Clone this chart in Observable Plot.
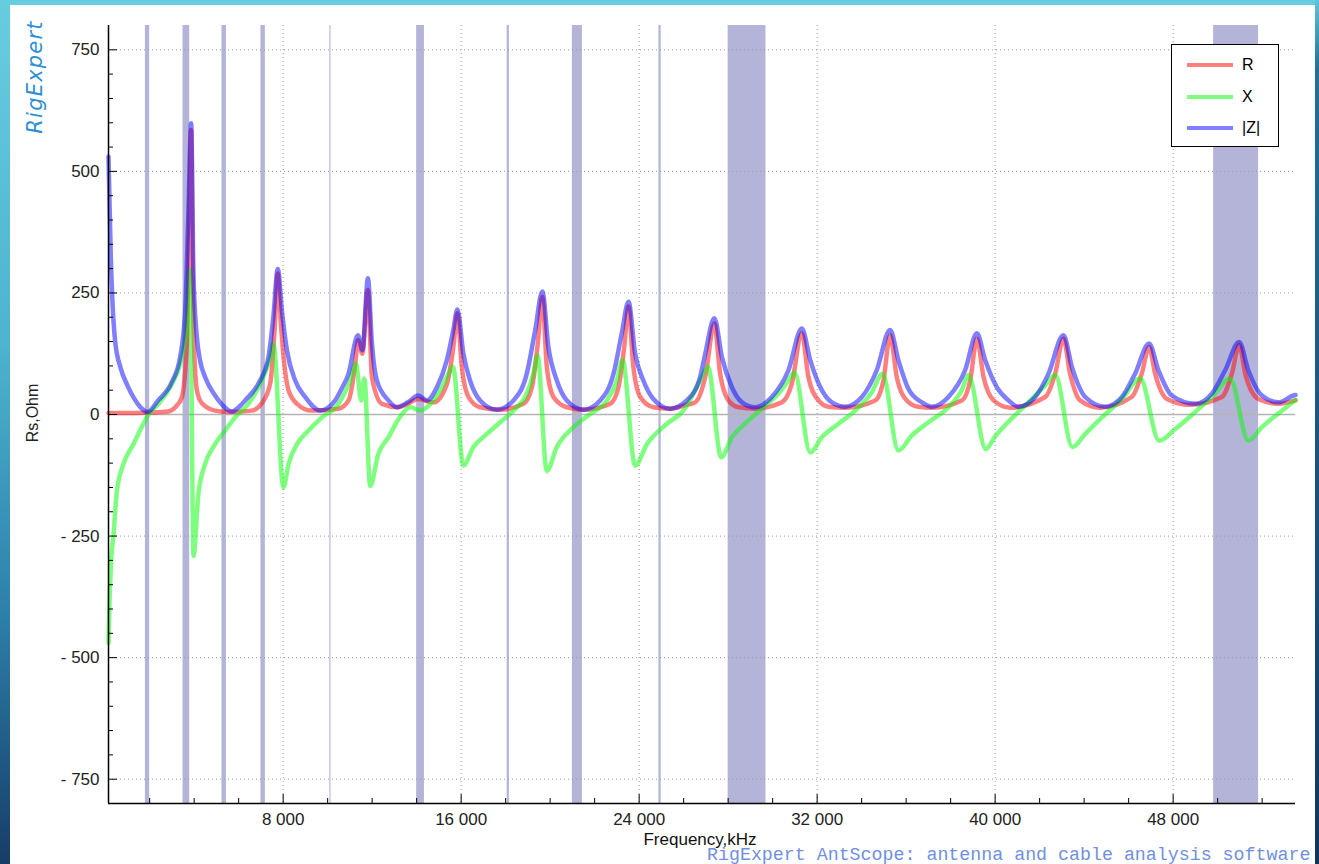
<!DOCTYPE html>
<html><head><meta charset="utf-8">
<script src="https://cdn.jsdelivr.net/npm/d3@7"></script>
<script src="https://cdn.jsdelivr.net/npm/@observablehq/plot@0.6"></script>
<style>
html,body{margin:0;padding:0;width:1319px;height:864px;overflow:hidden;}
body{position:relative;background:linear-gradient(180deg,#66cde1 0%,#4db3cf 40%,#2c7ea8 72%,#163d68 100%);font-family:"Liberation Sans",Arial,sans-serif;}
#rstrip{position:absolute;left:1315px;top:0;width:4px;height:864px;background:linear-gradient(180deg,#5fc4dc 0%,#1f6f9e 8%,#174f80 60%,#0f355f 100%);}
#panel{position:absolute;left:10px;top:5px;width:1305px;height:859px;background:#fff;}
#chart{position:absolute;left:10px;top:5px;}
.abs{position:absolute;white-space:nowrap;}
#logo{left:35px;top:77px;transform:translate(-50%,-50%) rotate(-90deg);color:#2e8fd4;font-style:italic;font-size:21px;letter-spacing:1.2px;font-family:"DejaVu Sans",sans-serif;}
#ylab{left:33px;top:413px;transform:translate(-50%,-50%) rotate(-90deg);font-size:16px;color:#222;}
#xlab{left:700px;top:840px;transform:translate(-50%,-50%);font-size:17px;color:#111;}
#foot{left:707px;top:846px;font-family:"Liberation Mono","Courier New",monospace;font-size:18.3px;line-height:18px;color:#6f8fe0;}
#legend{left:1171px;top:44px;width:106px;height:101px;border:1px solid #000;background:#fff;}
.lg{position:absolute;left:15px;width:46px;height:4px;}
.lt{position:absolute;left:70px;font-size:16px;line-height:16px;color:#000;transform:translateY(-50%);}
</style></head>
<body>
<div id="rstrip"></div>
<div id="panel"></div>
<div id="chart"></div>
<div class="abs" id="logo">RigExpert</div>
<div class="abs" id="ylab">Rs,Ohm</div>
<div class="abs" id="xlab">Frequency,kHz</div>
<div class="abs" id="foot">RigExpert AntScope: antenna and cable analysis software</div>
<div class="abs" id="legend">
  <div class="lg" style="top:18px;background:rgba(255,0,0,0.5)"></div><div class="lt" style="top:20px">R</div>
  <div class="lg" style="top:50px;background:rgba(0,255,0,0.5)"></div><div class="lt" style="top:52px">X</div>
  <div class="lg" style="top:81px;background:rgba(0,0,255,0.5)"></div><div class="lt" style="top:83px">|Z|</div>
</div>
<script>
// ---- axes ----
const xDomain = [150, 53500];
const yDomain = [-800, 800];
const xMajor = [8000, 16000, 24000, 32000, 40000, 48000];
const xMinor = [2000,4000,6000,10000,12000,14000,18000,20000,22000,26000,28000,30000,34000,36000,38000,42000,44000,46000,50000,52000];
const yMajor = [-750, -500, -250, 0, 250, 500, 750];
const yMinor = [-700,-650,-600,-550,-450,-400,-350,-300,-200,-150,-100,-50,50,100,150,200,300,350,400,450,550,600,650,700];

// ---- ham bands (kHz) ----
const bandLo = [1810, 3500, 5250, 7000, 10100, 14000, 18068, 21000, 24890, 28000, 49820];
const bandHi = [2000, 3800, 5450, 7200, 10150, 14350, 18168, 21450, 24990, 29700, 51840];

// ---- |Z| ----
const zFreq = [150,250,330,450,700,1000,1300,1600,1900,
2380,3000,3370,3600,3745,3865,
3970,4120,4270,4490,4940,5260,5690,
6070,6290,6890,7340,7560,7760,
7940,8170,8540,8990,9660,
10340,10650,10940,11310,11360,11560,11810,
11990,12210,12730,13110,13600,14070,14470,14910,15360,15650,15830,
16100,16400,16850,17600,18350,18950,19330,19650,
19920,20300,20750,21500,22250,22850,23220,23520,
23820,24190,24640,25390,26140,26740,26970,27380,
27720,28170,28620,29210,29960,30710,31310,
31690,32210,32660,33260,34010,34680,35280,
35650,36100,36710,37160,37900,38650,39180,
39550,40080,40600,41050,41800,42400,43070,
43450,44050,44940,45700,46290,46920,
47340,47940,48990,49740,50340,50970,
51380,51990,52730,53410,53500];
const zVal = [530,330,230,150,95,60,33,14,5,
29,67,118,215,421,599,
284,160,110,77,39,20,6,
18,29,64,118,201,299,
215,132,70,36,8,
29,55,84,160,163,132,280,
146,70,29,15,25,39,29,56,112,174,216,
125,70,29,10,29,84,174,253,
139,70,29,10,29,84,167,232,
125,70,32,12,29,77,125,198,
118,56,25,15,36,91,177,
112,50,25,16,36,91,174,
112,53,25,16,36,91,167,
112,56,29,16,36,84,163,
98,36,16,36,84,146,
91,39,22,43,91,149,
91,39,25,39,40];

// ---- R ----
const rFreq = [150,1120,2020,2830,3150,3450,3670,3780,3865,
3930,3970,4120,4350,4940,5620,6590,7040,7420,7610,7760,
7880,8020,8240,8620,9290,10490,10940,11240,11360,11560,11810,
11990,12440,13180,13600,14070,14470,14760,15360,15650,15830,
16030,16330,16850,17750,18800,19180,19430,19650,
19850,20150,20750,21570,22700,23070,23330,23520,
23740,24050,24640,25390,26140,26520,26970,27380,
27640,28010,28460,29210,30410,30860,31310,
31610,32060,32510,33260,34610,34980,35280,
35580,36030,36550,37160,38500,38880,39180,
39480,39930,40670,42250,42700,43070,
43370,43820,44720,46140,46590,46920,
47190,47720,48760,50190,50640,50970,
51240,51830,52730,53500];
const rVal = [3,3,4,6,15,36,147,400,585,
300,180,50,23,8,5,8,23,64,170,290,
200,118,50,22,8,12,29,105,153,125,256,
77,22,15,22,32,27,25,63,139,208,
98,36,15,10,22,56,139,242,
98,36,15,10,22,56,139,222,
98,36,15,12,20,25,77,187,
84,29,15,12,25,63,167,
77,29,16,14,29,70,163,
77,29,16,14,29,70,156,
77,29,14,36,84,156,
84,29,14,36,84,139,
84,32,20,36,84,143,
84,32,22,29];

// ---- X ----
const xFreq = [150,200,270,370,530,820,1270,1720,1950,
2400,3000,3370,3670,3820,3970,
4190,4490,4940,5390,5840,6440,7040,7420,7560,8010,
8240,8620,9140,9740,10490,11010,11270,11510,11650,11910,
12280,12730,13250,13710,14160,14460,15060,15430,15630,16100,
16550,17160,17750,18350,18950,19250,19430,19850,
20300,21050,21800,22550,23000,23250,23820,
24350,25250,25990,26520,26820,27090,27690,
28170,28760,29520,30260,30710,30980,31690,
32210,32960,33710,34460,34940,35650,
36260,37000,37900,38500,38800,39580,
40000,40750,41500,42250,42700,43470,
44050,44800,45700,46520,47370,
48090,48990,49740,50560,51380,
51990,52730,53500];
const xVal = [-470,-380,-300,-250,-157,-102,-61,-19,0,
22,63,105,187,297,-291,
-164,-102,-61,-33,-6,22,70,118,146,-150,
-102,-61,-33,-6,22,70,105,29,74,-147,
-81,-47,-5,15,8,15,50,84,98,-105,
-67,-40,-16,8,43,84,122,-116,
-67,-26,1,29,70,112,-105,
-61,-19,8,50,77,98,-88,
-47,-19,12,43,70,87,-78,
-47,-19,8,46,84,-74,
-43,-16,15,50,81,-71,
-45,-8,25,60,81,-67,
-40,-6,32,74,-54,
-30,5,36,74,-54,
-26,2,30];

const rows = (f, v) => f.map((d, i) => ({f: d, v: v[i]}));
const bands = bandLo.map((d, i) => ({lo: d, hi: bandHi[i]}));
const fmtX = d => d3.format(",")(d).replace(/,/g, " ");
const fmtY = d => d < 0 ? "- " + (-d) : String(d);

const W = 1305, H = 830, mL = 98, mR = 20, mT = 20, mB = 32;
const plotH = H - mT - mB, plotW = W - mL - mR;

const chart = Plot.plot({
  width: W, height: H,
  marginLeft: mL, marginRight: mR, marginTop: mT, marginBottom: mB,
  style: {background: "transparent", fontFamily: "Liberation Sans, Arial, sans-serif", fontSize: "17px", color: "#222"},
  x: {domain: xDomain, ticks: xMajor, tickFormat: fmtX, tickSize: 0, tickPadding: 9, label: null},
  y: {domain: yDomain, ticks: yMajor, tickFormat: fmtY, tickSize: 0, tickPadding: 9, label: null},
  marks: [
    Plot.rect(bands, {x1: "lo", x2: "hi", fill: "#6a6ab4", fillOpacity: 0.5}),
    Plot.ruleX(xMajor, {stroke: "#9a9a9a", strokeDasharray: "1,3", strokeWidth: 1}),
    Plot.ruleY(yMajor.filter(d => d !== 0), {stroke: "#9a9a9a", strokeDasharray: "1,3", strokeWidth: 1}),
    Plot.ruleY([0], {stroke: "#b4b4b4", strokeWidth: 1.5}),
    Plot.line(rows(rFreq, rVal), {x: "f", y: "v", stroke: "#ff0000", strokeOpacity: 0.5, strokeWidth: 4.5, curve: "monotone-x"}),
    Plot.line(rows(xFreq, xVal), {x: "f", y: "v", stroke: "#00ff00", strokeOpacity: 0.5, strokeWidth: 4.5, curve: "monotone-x"}),
    Plot.line(rows(zFreq, zVal), {x: "f", y: "v", stroke: "#0000ff", strokeOpacity: 0.5, strokeWidth: 4.5, curve: "monotone-x"}),
    Plot.ruleX(xMinor, {stroke: "#000", insetTop: plotH - 5}),
    Plot.ruleX(xMajor, {stroke: "#000", insetTop: plotH - 9}),
    Plot.ruleY(yMinor, {stroke: "#000", insetRight: plotW - 5}),
    Plot.ruleY(yMajor, {stroke: "#000", insetRight: plotW - 9}),
    Plot.ruleX([xDomain[0]], {stroke: "#000", strokeWidth: 1.5}),
    Plot.ruleY([yDomain[0]], {stroke: "#000", strokeWidth: 1.5})
  ]
});
document.getElementById("chart").appendChild(chart);
</script>
</body></html>
